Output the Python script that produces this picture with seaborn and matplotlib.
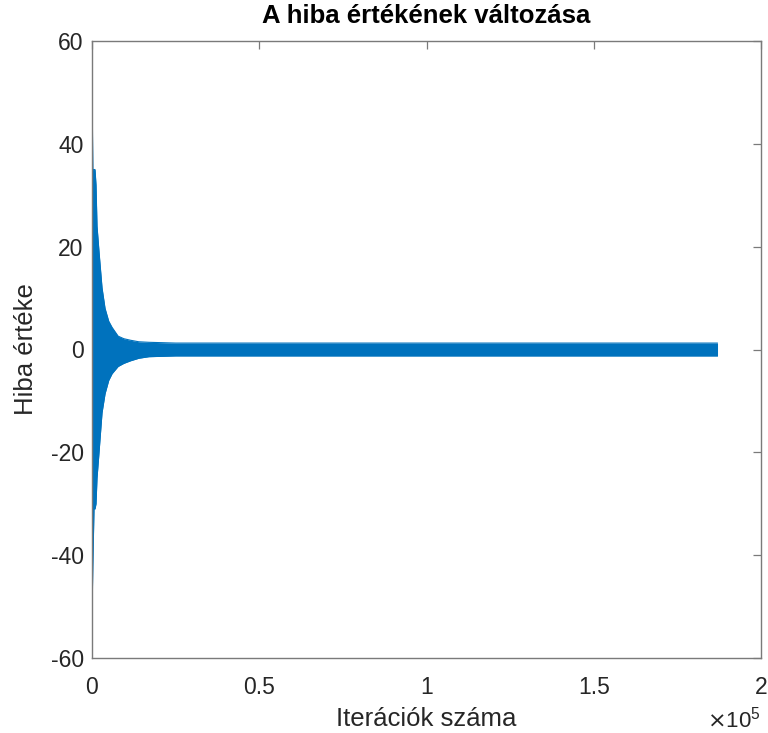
import matplotlib
matplotlib.use("Agg")
import matplotlib.pyplot as plt
import seaborn as sns
import pandas as pd

# Envelope of the error signal (iteration, upper, lower)
env_x = [0, 250, 600, 900, 1200, 1500, 2100, 3000, 3900, 5000, 6000, 7800,
         9500, 11500, 14000, 17000, 25000, 187000]
env_upper = [52, 35, 35, 35, 32, 24, 19, 12, 8, 5.5, 4.3, 2.6,
             2.1, 1.8, 1.5, 1.4, 1.25, 1.25]
env_lower = [-52, -42, -31, -31, -30, -25, -20, -12.3, -8.6, -6, -4.7, -3.3,
             -2.7, -2.2, -1.7, -1.4, -1.25, -1.25]

x_ticks = [0, 50000, 100000, 150000, 200000]
x_tick_labels = ["0", "0.5", "1", "1.5", "2"]
y_ticks = [-60, -40, -20, 0, 20, 40, 60]

title = "A hiba értékének változása"
xlabel = "Iterációk száma"
ylabel = "Hiba értéke"

sns.set_style("white")
plt.rcParams["font.family"] = ["Liberation Sans", "DejaVu Sans"]
plt.rcParams["axes.unicode_minus"] = False

df = pd.DataFrame({"x": env_x, "upper": env_upper, "lower": env_lower})

fig = plt.figure(figsize=(7.68, 7.33), dpi=100)
ax = fig.add_axes([92 / 768, 75 / 733, 669 / 768, 617 / 733])

blue = "#0072BD"
ax.fill_between(df["x"], df["lower"], df["upper"], color=blue, linewidth=0)
sns.lineplot(data=df, x="x", y="upper", ax=ax, color=blue, linewidth=0.8)
sns.lineplot(data=df, x="x", y="lower", ax=ax, color=blue, linewidth=0.8)

ax.set_xlim(0, 200000)
ax.set_ylim(-60, 60)
ax.set_xticks(x_ticks)
ax.set_xticklabels(x_tick_labels)
ax.set_yticks(y_ticks)

spcol = "#7a7a7a"
txtcol = "#262626"
for s in ax.spines.values():
    s.set_color(spcol)
    s.set_linewidth(1.0)
    s.set_visible(True)
ax.tick_params(axis="both", direction="in", length=6, width=0.9, color=spcol,
               labelcolor=txtcol, labelsize=16.5, top=True, right=True)
ax.tick_params(axis="x", pad=13)
ax.tick_params(axis="y", pad=6)

ax.set_xlabel(xlabel, fontsize=18.5, color=txtcol, labelpad=6)
ax.set_ylabel(ylabel, fontsize=18.5, color=txtcol, labelpad=9)
ax.set_title(title, fontsize=18.5, fontweight="bold", color="black", pad=13)

ax.text(1.0, -0.113, r"$\times\mathregular{10^5}$", transform=ax.transAxes,
        ha="right", va="baseline", fontsize=16, color=txtcol)

fig.savefig("out.png", dpi=100)
